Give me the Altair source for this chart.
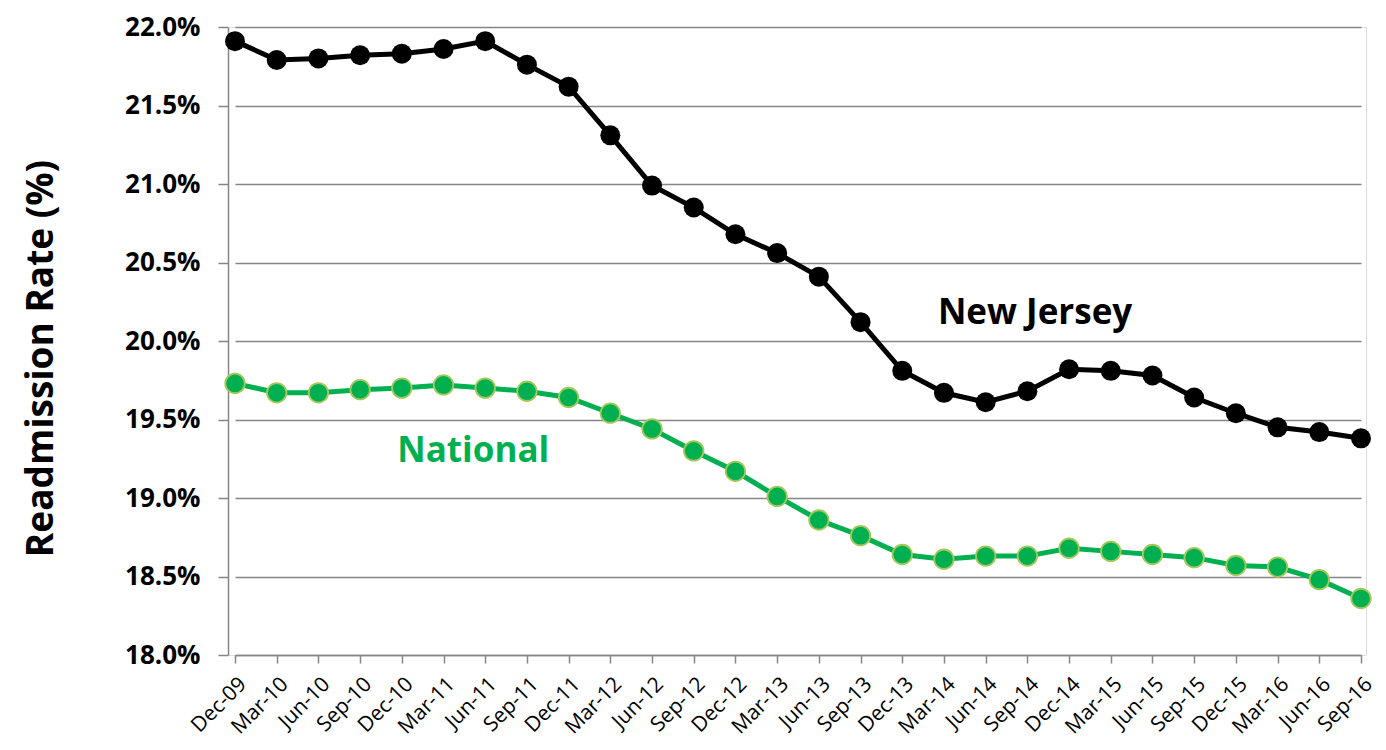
import altair as alt
import pandas as pd

quarters = ["Dec-09", "Mar-10", "Jun-10", "Sep-10", "Dec-10", "Mar-11", "Jun-11",
            "Sep-11", "Dec-11", "Mar-12", "Jun-12", "Sep-12", "Dec-12", "Mar-13",
            "Jun-13", "Sep-13", "Dec-13", "Mar-14", "Jun-14", "Sep-14", "Dec-14",
            "Mar-15", "Jun-15", "Sep-15", "Dec-15", "Mar-16", "Jun-16", "Sep-16"]

new_jersey = [21.91, 21.79, 21.80, 21.82, 21.83, 21.86, 21.91, 21.76, 21.62, 21.31,
              20.99, 20.85, 20.68, 20.56, 20.41, 20.12, 19.81, 19.67, 19.61, 19.68,
              19.82, 19.81, 19.78, 19.64, 19.54, 19.45, 19.42, 19.38]

national = [19.73, 19.67, 19.67, 19.69, 19.70, 19.72, 19.70, 19.68, 19.64, 19.54,
            19.44, 19.30, 19.17, 19.01, 18.86, 18.76, 18.64, 18.61, 18.63, 18.63,
            18.68, 18.66, 18.64, 18.62, 18.57, 18.56, 18.48, 18.36]

y_ticks = [18.0, 18.5, 19.0, 19.5, 20.0, 20.5, 21.0, 21.5, 22.0]

nj_label = {"name": ["New Jersey"], "quarter": ["Dec-14"], "rate": [20.18]}
nat_label = {"name": ["National"], "quarter": ["Jun-11"], "rate": [19.30]}

nj_df = pd.DataFrame({"quarter": quarters, "rate": new_jersey})
nat_df = pd.DataFrame({"quarter": quarters, "rate": national})

FONT = "Open Sans"
GREEN = "#00B050"

x_plain = alt.X("quarter:N", sort=quarters)
x_enc = alt.X("quarter:N", sort=quarters,
              scale=alt.Scale(type="point", range=[7, 1133], padding=0),
              axis=alt.Axis(title=None, labelAngle=-45, labelFont=FONT,
                            labelFontSize=21, labelColor="#000000",
                            labelPadding=10, tickSize=8, tickColor="#868686",
                            tickWidth=1.5, domainColor="#868686", domainWidth=1.5,
                            grid=False, labelOverlap=False))
y_enc = alt.Y("rate:Q", scale=alt.Scale(domain=[18, 22], nice=False, zero=False),
              axis=alt.Axis(values=y_ticks, labelExpr="format(datum.value, '.1f') + '%'",
                            title="Readmission Rate (%)", titleFont=FONT,
                            titleFontSize=37, titleFontWeight="bold",
                            titleColor="#000000", titlePadding=64, titleY=331,
                            labelFont=FONT, labelFontSize=26, labelFontWeight="bold",
                            labelColor="#000000", labelPadding=18, tickSize=10,
                            tickColor="#868686", tickWidth=1.5,
                            domainColor="#868686", domainWidth=1.5,
                            gridColor="#868686", gridWidth=1.5))

nj_line = alt.Chart(nj_df).mark_line(color="#000000", strokeWidth=5).encode(x=x_enc, y=y_enc)
nj_pts = alt.Chart(nj_df).mark_point(filled=True, color="#000000", size=400, opacity=1).encode(
    x=x_plain, y="rate:Q")

nat_line = alt.Chart(nat_df).mark_line(color=GREEN, strokeWidth=5).encode(x=x_plain, y="rate:Q")
nat_pts = alt.Chart(nat_df).mark_point(filled=True, fill=GREEN, stroke="#A5C85A",
                                       strokeWidth=1.8, size=380, opacity=1).encode(
    x=x_plain, y="rate:Q")

nj_text = alt.Chart(pd.DataFrame(nj_label)).mark_text(
    font=FONT, fontSize=35, fontWeight="bold", align="center", baseline="middle",
    color="#000000", dx=-34).encode(x=x_plain, y="rate:Q", text="name:N")
nat_text = alt.Chart(pd.DataFrame(nat_label)).mark_text(
    font=FONT, fontSize=35, fontWeight="bold", align="center", baseline="middle",
    color=GREEN, dx=-12).encode(x=x_plain, y="rate:Q", text="name:N")

chart = alt.layer(nj_line, nat_line, nat_pts, nj_pts, nj_text, nat_text).properties(
    width=1138, height=628,
    autosize=alt.AutoSizeParams(type="none"),
    padding={"left": 220, "top": 19, "right": 12, "bottom": 87},
).configure_view(stroke=None).configure(background="#ffffff")

chart.save("out.html", embed_options={"renderer": "svg", "actions": False})
